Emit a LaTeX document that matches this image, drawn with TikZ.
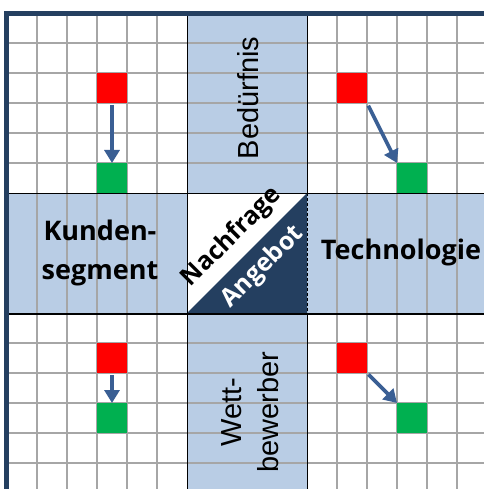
\documentclass[tikz,border=0pt]{standalone}
\usepackage{fontspec}
\setmainfont{Liberation Sans}
\newfontfamily\hfont{Open Sans}
\usetikzlibrary{arrows.meta}
\definecolor{bandblue}{HTML}{B9CDE5}
\definecolor{navy}{HTML}{243F60}
\definecolor{gridgray}{HTML}{A6A6A6}
\definecolor{arrowblue}{HTML}{3A5F94}
\definecolor{sqred}{HTML}{FF0000}
\definecolor{sqgreen}{HTML}{00B050}
\tikzset{
  gline/.style={draw=gridgray, line width=2.8pt},
  bline/.style={draw=black, line width=0.9pt},
  cellred/.style={fill=sqred, minimum size=30pt, inner sep=0pt, outer sep=0pt},
  cellgreen/.style={fill=sqgreen, minimum size=30pt, inner sep=0pt, outer sep=0pt},
  arr/.style={draw=arrowblue, line width=3.6pt, -{Triangle[width=15pt,length=13pt]}},
  vlabel/.style={rotate=90, align=center, font=\fontsize{29}{37}\selectfont},
  hlabel/.style={align=center, font=\hfont\bfseries\fontsize{27}{39}\selectfont},
  dlabel/.style={rotate=45, font=\hfont\bfseries\fontsize{25}{28}\selectfont, inner sep=0pt}
}
\begin{document}
\begin{tikzpicture}[x=1pt,y=-1pt]
\useasboundingbox (0,0) rectangle (484,489);
\fill[white] (0,0) rectangle (484,489);
% bands
\fill[bandblue] (187,14) rectangle (307,489);
\fill[bandblue] (7,193) rectangle (484,313);
% grid
\foreach \x in {37,67,97,127,157,337,367,397,427,457}
  \draw[gline] (\x,14) -- (\x,489);
\foreach \y in {43,73,103,133,163,343,373,403,433,463}
  \draw[gline] (7,\y) -- (484,\y);
% centre square
\fill[white] (187,193) rectangle (307,313);
\fill[navy] (187,313) -- (307,193) -- (307,313) -- cycle;
% black band edges
\draw[bline] (7,193) -- (484,193);
\draw[draw=black, line width=2.4pt] (7,314) -- (484,314);
\draw[bline] (187,14) -- (187,489);
\draw[bline] (307.5,14) -- (307.5,193);
\draw[bline] (307.5,313) -- (307.5,489);
\draw[bline, densely dashed] (307.5,193) -- (307.5,313);
% frame
\draw[navy, line width=5pt] (6.5,489) -- (6.5,14) -- (484,14);
% squares
\node[cellred]   (r1) at (112,88)  {};
\node[cellgreen] (g1) at (112,178) {};
\node[cellred]   (r2) at (352,88)  {};
\node[cellgreen] (g2) at (412,178) {};
\node[cellred]   (r3) at (112,358) {};
\node[cellgreen] (g3) at (112,418) {};
\node[cellred]   (r4) at (352,358) {};
\node[cellgreen] (g4) at (412,418) {};
% arrows
\draw[arr, shorten <=2pt] (r1.south) -- (g1.north);
\draw[arr, shorten <=3pt] (r2.south east) -- (g2.north west);
\draw[arr, shorten <=2pt] (r3.south) -- (g3.north);
\draw[arr, shorten <=2pt] (r4.south east) -- (g4.north west);
% labels
\node[vlabel] (bed) at (248,98) {Bedürfnis};
\node[vlabel] (wet) at (250,412) {Wett-\\bewerber};
\node[hlabel] (kun) at (100,253) {Kunden-\\segment};
\node[hlabel] (tec) at (401,252) {Technologie};
\node[dlabel, text=black] (nach) at (232,237) {Nachfrage};
\node[dlabel, text=white] (ang) at (263,267) {Angebot};
\end{tikzpicture}
\end{document}
